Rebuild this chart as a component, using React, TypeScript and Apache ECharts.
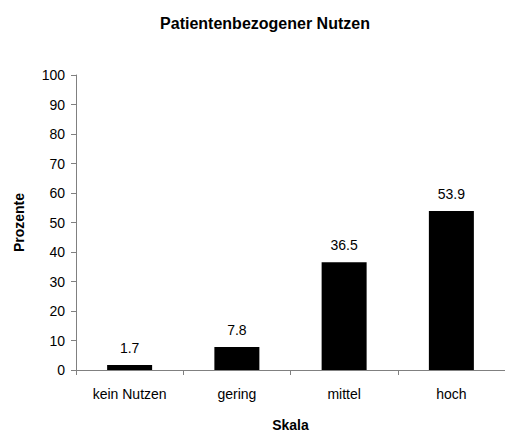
import React, { useEffect, useRef } from "react";
import * as echarts from "echarts";

const categories = ["kein Nutzen", "gering", "mittel", "hoch"];
const values = [1.7, 7.8, 36.5, 53.9];
const titleText = "Patientenbezogener Nutzen";
const yName = "Prozente";
const xName = "Skala";

export default function App() {
  const ref = useRef<HTMLDivElement>(null);
  useEffect(() => {
    if (!ref.current) return;
    const chart = echarts.init(ref.current, undefined, { renderer: "svg" });
    const font = "Liberation Sans, Arial, sans-serif";
    chart.setOption({
      animation: false,
      backgroundColor: "#ffffff",
      textStyle: { fontFamily: font },
      title: {
        text: titleText,
        left: 260,
        textAlign: "center",
        top: 10,
        textStyle: { fontFamily: font, fontSize: 16, fontWeight: "bold", color: "#000" },
      },
      grid: { left: 76, top: 75, width: 440, height: 302, containLabel: false },
      xAxis: {
        type: "category",
        data: categories,
        name: xName,
        nameLocation: "middle",
        nameGap: 48,
        nameTextStyle: { fontFamily: font, fontSize: 14, fontWeight: "bold", color: "#000" },
        axisLine: { lineStyle: { color: "#808080", width: 1 } },
        axisTick: { show: true, inside: false, length: 5, lineStyle: { color: "#808080" } },
        axisLabel: { fontFamily: font, fontSize: 14, color: "#000", margin: 17 },
      },
      yAxis: {
        type: "value",
        min: 0,
        max: 100,
        interval: 10,
        name: yName,
        nameLocation: "middle",
        nameGap: 50,
        nameRotate: 90,
        nameTextStyle: { fontFamily: font, fontSize: 14, fontWeight: "bold", color: "#000" },
        axisLine: { show: true, lineStyle: { color: "#808080", width: 1 } },
        axisTick: { show: true, inside: false, length: 5, lineStyle: { color: "#808080" } },
        axisLabel: { fontFamily: font, fontSize: 14, color: "#000", margin: 11 },
        splitLine: { show: false },
      },
      series: [
        {
          type: "bar",
          data: values,
          barWidth: 45,
          itemStyle: { color: "#000000" },
          label: {
            show: true,
            position: "top",
            distance: 10,
            fontFamily: font,
            fontSize: 14,
            color: "#000",
            formatter: (p: any) => p.value.toFixed(1),
          },
        },
      ],
    });
    return () => chart.dispose();
  }, []);
  return (
    <div
      ref={ref}
      style={{ position: "fixed", left: 0, top: 0, width: 505, height: 437, background: "#fff" }}
    />
  );
}
